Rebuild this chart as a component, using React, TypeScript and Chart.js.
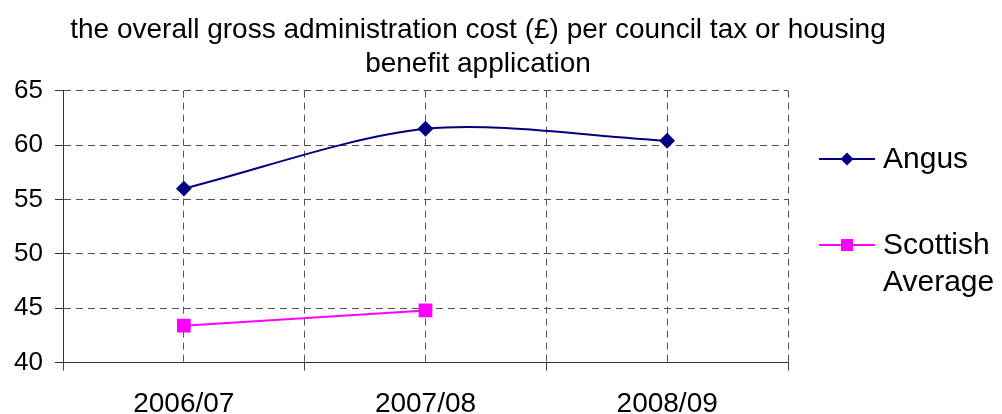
import React, { useEffect, useRef } from "react";
import { Chart, registerables } from "chart.js";

Chart.register(...registerables);

const categories = ["2006/07", "2007/08", "2008/09"];
const angus = [56.0, 61.5, 60.4];
const scottishAverage: (number | null)[] = [43.4, 44.8, null];
const seriesNames = ["Angus", "Scottish Average"];
const titleLines = [
  "the overall gross administration cost (£) per council tax or housing",
  "benefit application",
];
const yMin = 40;
const yMax = 65;
const yStep = 5;

const FONT = "'Liberation Sans', Arial, sans-serif";

const titlePlugin = {
  id: "customTitle",
  afterDraw(chart: any) {
    const ctx = chart.ctx;
    ctx.save();
    ctx.font = `28px ${FONT}`;
    ctx.fillStyle = "#000";
    ctx.textAlign = "center";
    ctx.textBaseline = "middle";
    titleLines.forEach((t, i) => ctx.fillText(t, 478, 30 + i * 34));
    ctx.restore();
  },
};

const legendPlugin = {
  id: "customLegend",
  afterDraw(chart: any) {
    const ctx = chart.ctx;
    const ys = [159, 245];
    ctx.save();
    chart.data.datasets.forEach((ds: any, i: number) => {
      const y = ys[i];
      ctx.strokeStyle = ds.borderColor;
      ctx.lineWidth = 2;
      ctx.beginPath();
      ctx.moveTo(819, y);
      ctx.lineTo(875, y);
      ctx.stroke();
      ctx.fillStyle = ds.pointBackgroundColor;
      ctx.beginPath();
      if (ds.pointStyle === "rectRot") {
        const r = 6.5;
        ctx.moveTo(847 - r, y);
        ctx.lineTo(847, y - r);
        ctx.lineTo(847 + r, y);
        ctx.lineTo(847, y + r);
        ctx.closePath();
        ctx.fill();
      } else {
        ctx.fillRect(847 - 6, y - 6, 12, 12);
      }
      ctx.font = `30px ${FONT}`;
      ctx.fillStyle = "#000";
      ctx.textAlign = "left";
      ctx.textBaseline = "middle";
      const words = String(ds.label).split(" ");
      const lines: string[] = [];
      let cur = "";
      words.forEach((w) => {
        const test = cur ? cur + " " + w : w;
        if (cur && ctx.measureText(test).width > 112) {
          lines.push(cur);
          cur = w;
        } else cur = test;
      });
      if (cur) lines.push(cur);
      lines.forEach((l, k) => ctx.fillText(l, 883, y + 1 + k * 37));
    });
    ctx.restore();
  },
};

export default function App() {
  const ref = useRef<HTMLCanvasElement>(null);
  useEffect(() => {
    if (!ref.current) return;
    const chart = new Chart(ref.current, {
      type: "line",
      data: {
        datasets: [
          {
            label: seriesNames[0],
            data: angus.map((v, i) => ({ x: i, y: v })),
            borderColor: "#000080",
            backgroundColor: "#000080",
            pointBackgroundColor: "#000080",
            pointBorderColor: "#000080",
            pointStyle: "rectRot",
            pointRadius: 6.5,
            borderWidth: 2,
            tension: 0.3,
          },
          {
            label: seriesNames[1],
            data: scottishAverage.map((v, i) => ({ x: i, y: v })),
            borderColor: "#ff00ff",
            backgroundColor: "#ff00ff",
            pointBackgroundColor: "#ff00ff",
            pointBorderColor: "#ff00ff",
            pointStyle: "rect",
            pointRadius: 8.3,
            borderWidth: 2,
            tension: 0,
          },
        ],
      } as any,
      options: {
        animation: false,
        responsive: true,
        maintainAspectRatio: false,
        layout: { padding: { top: 90.7, right: 214, left: 0, bottom: 0 } },
        plugins: {
          legend: { display: false },
          title: { display: false },
          tooltip: { enabled: false },
        },
        scales: {
          x: {
            type: "linear",
            min: -0.5,
            max: categories.length - 0.5,
            afterFit: (s: any) => {
              s.height = 51.3;
            },
            afterBuildTicks: (s: any) => {
              const t = [];
              for (let v = -0.5; v <= categories.length - 0.5 + 1e-9; v += 0.5) t.push({ value: v });
              s.ticks = t;
            },
            ticks: {
              autoSkip: false,
              maxRotation: 0,
              padding: 17,
              color: "#000",
              font: { family: FONT, size: 28 },
              callback: (v: any) => (Number.isInteger(v) ? categories[v] : ""),
            },
            grid: {
              color: "#555",
              lineWidth: 1,
              tickLength: 8,
              tickColor: (c: any) =>
                c.tick && Number.isInteger(c.tick.value) ? "rgba(0,0,0,0)" : "#444",
            },
            border: { display: true, color: "#333", width: 1, dash: [7, 5] },
          },
          y: {
            min: yMin,
            max: yMax,
            afterFit: (s: any) => {
              s.width = 63;
            },
            ticks: {
              stepSize: yStep,
              padding: 12,
              color: "#000",
              font: { family: FONT, size: 26 },
            },
            grid: { color: "#555", lineWidth: 1, tickLength: 8, tickColor: "#333" },
            border: { display: true, color: "#333", width: 1, dash: [7, 5] },
          },
        },
      } as any,
      plugins: [titlePlugin, legendPlugin],
    });
    return () => chart.destroy();
  }, []);
  return (
    <div style={{ position: "fixed", left: 0, top: 0, width: 1002, height: 414, background: "#fff" }}>
      <canvas ref={ref} />
    </div>
  );
}
